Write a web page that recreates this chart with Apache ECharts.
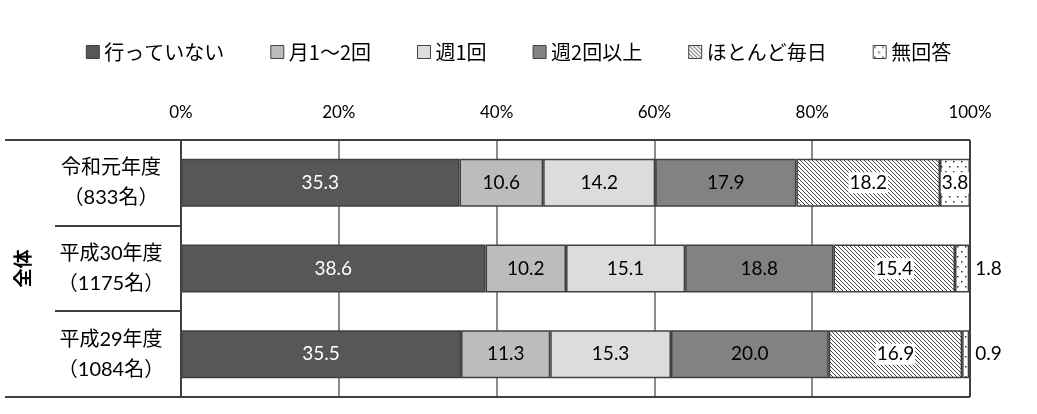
<!DOCTYPE html>
<html lang="ja">
<head>
    <meta charset="UTF-8">
    <title>運動頻度</title>
    <script src="https://cdn.jsdelivr.net/npm/echarts@6/dist/echarts.min.js"></script>
    <style>
        html, body { margin: 0; padding: 0; background: #fff; }
    </style>
</head>
<body>
<div id="main" style="width: 1037px;height: 414px"></div>

<script>
    // データ
    var categories = ['令和元年度\n（833名）', '平成30年度\n（1175名）', '平成29年度\n（1084名）'];
    var seriesNames = ['行っていない', '月1～2回', '週1回', '週2回以上', 'ほとんど毎日', '無回答'];
    var notDoing = [35.3, 38.6, 35.5];
    var monthly = [10.6, 10.2, 11.3];
    var weekly1 = [14.2, 15.1, 15.3];
    var weekly2 = [17.9, 18.8, 20.0];
    var daily = [18.2, 15.4, 16.9];
    var noAnswer = [3.8, 1.8, 0.9];
    var tickValues = [0, 20, 40, 60, 80, 100];
    var groupLabel = '全体';

    // 模様
    function hatchPattern() {
        var c = document.createElement('canvas');
        c.width = 8; c.height = 8;
        var ctx = c.getContext('2d');
        ctx.fillStyle = '#fff';
        ctx.fillRect(0, 0, 8, 8);
        ctx.strokeStyle = '#444';
        ctx.lineWidth = 1;
        for (var k = -3; k <= 2; k++) {
            ctx.beginPath();
            ctx.moveTo(k * 4, 0);
            ctx.lineTo(k * 4 + 8, 8);
            ctx.stroke();
        }
        return c;
    }
    function dotPattern() {
        var c = document.createElement('canvas');
        c.width = 8; c.height = 10;
        var ctx = c.getContext('2d');
        ctx.fillStyle = '#fff';
        ctx.fillRect(0, 0, 8, 10);
        ctx.fillStyle = '#333';
        ctx.fillRect(1, 1, 1.5, 1.5);
        ctx.fillRect(5, 6, 1.5, 1.5);
        return c;
    }

    var colors = [
        '#575757',
        '#bcbcbc',
        '#dcdcdc',
        '#828282',
        { image: hatchPattern(), repeat: 'repeat' },
        { image: dotPattern(), repeat: 'repeat' }
    ];
    var labelColors = ['#fff', '#000', '#000', '#000', '#000', '#000'];
    var values = [notDoing, monthly, weekly1, weekly2, daily, noAnswer];

    var numFont = 'Lato, "Noto Sans CJK JP", sans-serif';
    var jpFont = '"Noto Sans CJK JP", sans-serif';

    var gLeft = 181, gTop = 140, gRight = 67, gBottom = 17;
    var W = 1037, H = 414;
    var gW = W - gLeft - gRight, gH = H - gTop - gBottom;

    var chartDom = document.getElementById('main');
    var myChart = echarts.init(chartDom);
    var option;

    var series = seriesNames.map(function (name, i) {
        var lbl = {
            show: true,
            position: 'inside',
            color: labelColors[i],
            fontSize: 19,
            fontFamily: numFont,
            formatter: function (p) { return p.value.toFixed(1); }
        };
        if (i >= 4) {
            lbl.backgroundColor = '#fff';
            lbl.padding = [1, 1];
        }
        return {
            name: name,
            type: 'bar',
            stack: 'total',
            barWidth: 48,
            itemStyle: {
                color: colors[i],
                borderColor: '#404040',
                borderWidth: 1.5
            },
            label: lbl,
            data: values[i].map(function (v) {
                if (i === 5 && v < 3) {
                    return { value: v, label: { position: 'right', distance: 5 } };
                }
                return v;
            })
        };
    });

    var graphics = [];
    var lineStyle = { stroke: '#404040', lineWidth: 2 };
    graphics.push({ type: 'line', shape: { x1: 5, y1: gTop, x2: gLeft + gW, y2: gTop }, style: lineStyle, z: 10 });
    graphics.push({ type: 'line', shape: { x1: 5, y1: gTop + gH, x2: gLeft + gW, y2: gTop + gH }, style: lineStyle, z: 10 });
    graphics.push({ type: 'line', shape: { x1: gLeft + gW, y1: gTop, x2: gLeft + gW, y2: gTop + gH }, style: lineStyle, z: 10 });
    for (var r = 1; r < categories.length; r++) {
        var y = Math.round(gTop + gH * r / categories.length);
        graphics.push({ type: 'line', shape: { x1: 55, y1: y, x2: gLeft, y2: y }, style: lineStyle, z: 10 });
    }
    graphics.push({
        type: 'text',
        x: 23,
        y: gTop + gH / 2,
        rotation: Math.PI / 2,
        style: {
            text: groupLabel,
            font: 'bold 19px "Noto Sans CJK JP"',
            fill: '#000',
            align: 'center',
            verticalAlign: 'middle'
        }
    });

    option = {
        animation: false,
        backgroundColor: '#fff',
        legend: {
            data: seriesNames,
            top: 37,
            left: 'center',
            itemWidth: 13,
            itemHeight: 13,
            itemGap: 46,
            icon: 'rect',
            itemStyle: { borderColor: '#404040', borderWidth: 1 },
            textStyle: { fontSize: 20, fontFamily: jpFont, color: '#000' }
        },
        grid: { left: gLeft, top: gTop, right: gRight, bottom: gBottom, containLabel: false },
        xAxis: {
            type: 'value',
            position: 'top',
            min: tickValues[0],
            max: tickValues[tickValues.length - 1],
            interval: 20,
            axisLine: { show: false },
            axisTick: { show: false },
            axisLabel: {
                margin: 19,
                fontSize: 17,
                fontFamily: numFont,
                color: '#000',
                formatter: '{value}%'
            },
            splitLine: { show: true, lineStyle: { color: '#8c8c8c', width: 2 } }
        },
        yAxis: {
            type: 'category',
            inverse: true,
            data: categories,
            axisLine: { show: true, lineStyle: { color: '#404040', width: 2 } },
            axisTick: { show: false },
            axisLabel: {
                margin: 70,
                align: 'center',
                fontSize: 20,
                lineHeight: 30,
                fontFamily: numFont,
                color: '#000'
            }
        },
        graphic: graphics,
        series: series
    };

    option && myChart.setOption(option);
</script>
</body>
</html>
